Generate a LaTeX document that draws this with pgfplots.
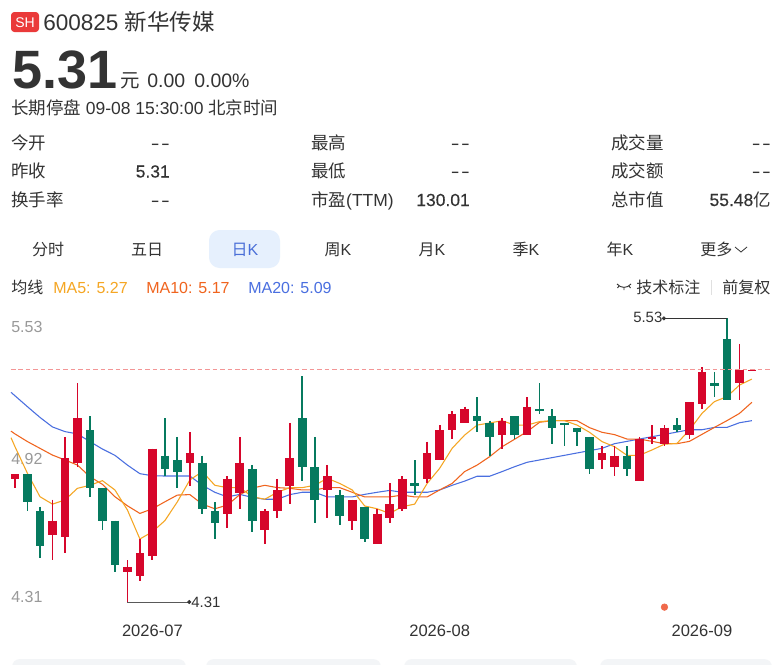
\documentclass[border=0pt]{standalone}
\usepackage{pgfplots}
\usepackage{pgfplotstable}
\usepackage{fontspec}
\pgfplotsset{compat=1.18}
\setmainfont{Liberation Sans}
\newfontfamily\cjk{Noto Sans CJK SC}
\newfontfamily\med[FakeBold=0.3]{Liberation Sans}
\definecolor{txt}{HTML}{333333}
\definecolor{tick}{HTML}{999999}
\definecolor{upc}{HTML}{D6062B}
\definecolor{dnc}{HTML}{067A5F}
\definecolor{ma5}{HTML}{F5A623}
\definecolor{ma10}{HTML}{F0641E}
\definecolor{ma20}{HTML}{4A6FE0}
\definecolor{tabbg}{HTML}{E6F0FD}
\definecolor{tabfg}{HTML}{4A6FD8}
\definecolor{badge}{HTML}{EA3A3A}
\definecolor{card}{HTML}{F3F5F7}
% x top bottom high low
\pgfplotstableread{
x top bot hi lo
0 4.86 4.84 4.86 4.80
3 4.66 4.60 4.75 4.49
4 4.93 4.59 5.02 4.52
5 5.10 4.91 5.25 4.89
9 4.46 4.44 4.49 4.31
10 4.52 4.42 4.58 4.40
11 4.97 4.51 4.97 4.49
14 4.95 4.91 5.04 4.81
17 4.84 4.69 4.85 4.63
18 4.91 4.78 5.02 4.71
20 4.70 4.62 4.71 4.56
21 4.79 4.70 4.84 4.67
22 4.93 4.81 5.08 4.73
25 4.85 4.79 4.90 4.67
27 4.75 4.66 4.75 4.62
29 4.69 4.56 4.71 4.56
30 4.73 4.67 4.82 4.65
31 4.84 4.71 4.85 4.70
33 4.95 4.84 5.00 4.82
34 5.05 4.92 5.07 4.92
35 5.12 5.05 5.13 5.01
36 5.14 5.08 5.15 5.08
39 5.09 5.03 5.10 4.97
41 5.15 5.03 5.19 5.03
47 4.95 4.92 4.98 4.88
48 4.94 4.89 4.98 4.85
50 5.01 4.83 5.02 4.83
51 5.02 5.01 5.07 4.99
52 5.06 4.99 5.07 4.98
54 5.17 5.03 5.17 5.01
55 5.30 5.16 5.32 5.14
58 5.31 5.25 5.42 5.18
59 5.31 5.305 5.31 5.305
}\uptab
\pgfplotstableread{
x top bot hi lo
1 4.86 4.74 4.86 4.70
2 4.70 4.55 4.72 4.50
6 5.05 4.80 5.11 4.76
7 4.80 4.66 4.80 4.62
8 4.66 4.47 4.66 4.44
12 4.94 4.88 5.10 4.85
13 4.92 4.87 5.02 4.80
15 4.91 4.71 4.94 4.69
16 4.70 4.65 4.74 4.58
19 4.88 4.66 4.90 4.61
23 5.10 4.89 5.28 4.83
24 4.89 4.75 5.02 4.65
26 4.77 4.68 4.79 4.64
28 4.72 4.58 4.72 4.57
32 4.82 4.81 4.92 4.77
37 5.11 5.09 5.19 5.04
38 5.08 5.02 5.09 4.94
40 5.11 5.03 5.11 5.01
42 5.14 5.13 5.25 5.12
43 5.11 5.06 5.14 4.99
44 5.08 5.07 5.08 4.98
45 5.06 5.04 5.06 4.98
46 5.02 4.88 5.02 4.86
49 4.94 4.88 4.98 4.85
53 5.07 5.05 5.10 5.04
56 5.25 5.24 5.30 5.19
57 5.44 5.18 5.53 5.18
}\dntab
% x ma5 ma10 ma20
\pgfplotstableread{
x a b c
-0.32 5.017 5.045 5.212
0 4.978 5.033 5.197
1 4.863 5.000 5.150
2 4.763 4.971 5.104
3 4.731 4.942 5.063
4 4.749 4.921 5.043
5 4.799 4.899 5.033
6 4.812 4.849 5.000
7 4.832 4.816 4.968
8 4.792 4.763 4.941
9 4.706 4.724 4.899
10 4.581 4.691 4.862
11 4.612 4.711 4.853
12 4.660 4.741 4.852
13 4.741 4.770 4.852
14 4.835 4.772 4.852
15 4.871 4.731 4.812
16 4.812 4.711 4.782
17 4.802 4.727 4.762
18 4.802 4.772 4.773
19 4.763 4.800 4.760
20 4.752 4.812 4.752
21 4.782 4.802 4.752
22 4.802 4.799 4.772
23 4.802 4.792 4.782
24 4.812 4.792 4.782
25 4.842 4.802 4.762
26 4.820 4.802 4.762
27 4.792 4.782 4.762
28 4.723 4.762 4.773
29 4.711 4.762 4.782
30 4.691 4.762 4.790
31 4.720 4.770 4.782
32 4.731 4.762 4.782
33 4.820 4.762 4.782
34 4.885 4.792 4.792
35 4.971 4.820 4.812
36 5.028 4.871 4.830
37 5.071 4.899 4.851
38 5.080 4.935 4.851
39 5.090 4.978 4.871
40 5.071 5.010 4.892
41 5.071 5.043 4.911
42 5.086 5.083 4.921
43 5.090 5.090 4.931
44 5.090 5.090 4.941
45 5.071 5.090 4.951
46 5.040 5.060 4.961
47 5.000 5.040 4.971
48 4.978 5.030 4.991
49 4.941 5.011 5.001
50 4.941 5.011 5.011
51 4.964 5.001 5.021
52 4.989 4.991 5.031
53 4.992 4.991 5.041
54 5.050 5.001 5.051
55 5.121 5.031 5.051
56 5.172 5.061 5.061
57 5.193 5.090 5.061
58 5.243 5.121 5.081
59 5.269 5.169 5.090
}\matab
\newcommand\fa{\fontsize{16.9}{18}\selectfont}
\newcommand\fb{\fontsize{14.6}{16}\selectfont}
\newcommand\fc{\fontsize{13.1}{15}\selectfont}
\newcommand\fd{\fontsize{12}{14}\selectfont}
\newcommand\nil{\scalebox{1.5}[1]{-}\kern1pt\scalebox{1.5}[1]{-}}
\begin{document}
\begin{tikzpicture}[x=0.75pt,y=-0.75pt,
  l/.style={inner sep=0pt,anchor=base west,text=txt,font=\fc},
  r/.style={inner sep=0pt,anchor=base east,text=txt,font=\fc},
  c/.style={inner sep=0pt,anchor=base,text=txt,font=\fd}]
\path[fill=white,use as bounding box] (0,0) rectangle (774,664);
\begin{axis}[at={(8.25pt,-459pt)},anchor=south west,scale only axis,
  width=570pt,height=226.5pt,
  xmin=-0.32,xmax=60.53,ymin=4.267,ymax=5.566,
  axis line style={draw=none},major tick length=0pt,tick style={draw=none},
  clip=false,
  xtick={11,34,55},xticklabels={2026-07,2026-08,2026-09},
  xticklabel style={font=\fontsize{12.4}{14}\selectfont,text=txt,yshift=-6pt},
  ytick={4.31,4.92,5.53},
  yticklabels={\raisebox{-0.7pt}{4.31},\raisebox{-3pt}{4.92},\raisebox{-10.5pt}{5.53}},
  yticklabel style={font=\fd,text=tick,anchor=base west,inner sep=0pt,xshift=0pt},
  error bars/error mark=none]
% moving averages, under the candles
\addplot[ma20,line width=0.8pt,no marks] table[x=x,y=c]{\matab};
\addplot[ma10,line width=0.8pt,no marks] table[x=x,y=b]{\matab};
\addplot[ma5,line width=0.8pt,no marks] table[x=x,y=a]{\matab};
% wicks
\addplot[draw=none,no marks,error bars/.cd,y dir=minus,y explicit,error mark=none,error bar style={draw=upc,line width=1.35pt,solid}]
  table[x=x,y=hi,y error minus expr=\thisrow{hi}-\thisrow{lo}]{\uptab};
\addplot[draw=none,no marks,error bars/.cd,y dir=minus,y explicit,error mark=none,error bar style={draw=dnc,line width=1.35pt,solid}]
  table[x=x,y=hi,y error minus expr=\thisrow{hi}-\thisrow{lo}]{\dntab};
% bodies
\addplot[draw=none,no marks,error bars/.cd,y dir=minus,y explicit,error mark=none,error bar style={draw=upc,line width=6.5pt,solid}]
  table[x=x,y=top,y error minus expr=\thisrow{top}-\thisrow{bot}]{\uptab};
\addplot[draw=none,no marks,error bars/.cd,y dir=minus,y explicit,error mark=none,error bar style={draw=dnc,line width=6.5pt,solid}]
  table[x=x,y=top,y error minus expr=\thisrow{top}-\thisrow{bot}]{\dntab};
% last close
\addplot[color={rgb,255:red,243;green,150;blue,150},line width=0.75pt,dash pattern=on 3.4pt off 2.2pt,no marks] coordinates {(-0.32,5.31)(60.53,5.31)};
% high and low callouts
\addplot[color=txt,line width=0.75pt,no marks] coordinates {(57,5.53)(51.96,5.53)};
\addplot[color=txt,only marks,mark=*,mark size=1.3pt] coordinates {(51.96,5.53)};
\addplot[color=black!65,line width=0.75pt,no marks] coordinates {(9,4.31)(13.95,4.31)};
\addplot[color=txt,only marks,mark=*,mark size=1.3pt] coordinates {(13.95,4.31)};
\addplot[color={rgb,255:red,240;green,105;blue,75},only marks,mark=*,mark size=2.5pt] coordinates {(52,4.288)};
\node[anchor=west,inner sep=0pt,font=\fontsize{11.2}{13}\selectfont,text=txt] at (axis cs:14.1,4.31) {4.31};
\node[anchor=east,inner sep=0pt,font=\fontsize{11.2}{13}\selectfont,text=txt] at (axis cs:51.85,5.535) {5.53};
\end{axis}
% header
\fill[badge,rounded corners=2.5pt] (11,12) rectangle (39,32);
\node[inner sep=0pt,anchor=base,text=white,font=\fontsize{10.5}{12}\selectfont] at (25,27) {SH};
\node[l,font=\fa] at (43,30) {600825 {\cjk 新华传媒}};
\node[l,font=\fontsize{40.5}{42}\selectfont\bfseries] at (12,88) {5.31};
\node[l,font=\fb] at (120,87) {{\cjk 元}};
\node[l,font=\fb] at (147,87) {0.00};
\node[l,font=\fb] at (194,87) {0.00\%};
\node[l] at (11,114) {{\cjk 长期停盘} 09-08 15:30:00 {\cjk 北京时间}};
% quote table
\node[l] at (11,149) {\cjk 今开};
\node[l] at (11,177.5) {\cjk 昨收};
\node[l] at (11,206) {\cjk 换手率};
\node[r] at (170,149) {\nil};
\node[r] at (170,177.5) {\med 5.31};
\node[r] at (170,206) {\nil};
\node[l] at (311,149) {\cjk 最高};
\node[l] at (311,177.5) {\cjk 最低};
\node[l] at (311,206) {{\cjk 市盈}(TTM)};
\node[r] at (470,149) {\nil};
\node[r] at (470,177.5) {\nil};
\node[r] at (470,206) {\med 130.01};
\node[l] at (611,149) {\cjk 成交量};
\node[l] at (611,177.5) {\cjk 成交额};
\node[l] at (611,206) {\cjk 总市值};
\node[r] at (771,149) {\nil};
\node[r] at (771,177.5) {\nil};
\node[r] at (771,206) {{\med 55.48}{\cjk 亿}};
% tabs
\fill[tabbg,rounded corners=8pt] (209,230) rectangle (280,268);
\node[c] at (48,255) {\cjk 分时};
\node[c] at (147,255) {\cjk 五日};
\node[c,text=tabfg] at (245,255) {{\cjk 日}K};
\node[c] at (338,255) {{\cjk 周}K};
\node[c] at (432,255) {{\cjk 月}K};
\node[c] at (526,255) {{\cjk 季}K};
\node[c] at (620,255) {{\cjk 年}K};
\node[inner sep=0pt,anchor=base west,text=txt,font=\fd] at (700,255) {\cjk 更多};
\draw[txt,line width=0.6pt] (735,247) -- (741,252) -- (747,247);
% legend row
\node[l,font=\fd] at (11,293) {\cjk 均线};
\node[l,font=\fd,text=ma5] at (53,293) {MA5: 5.27};
\node[l,font=\fd,text=ma10] at (146,293) {MA10: 5.17};
\node[l,font=\fd,text=ma20] at (248,293) {MA20: 5.09};
\draw[txt,line width=0.7pt] (617,284) .. controls (621,288.5) and (627,288.5) .. (631,284);
\draw[txt,line width=0.7pt] (619,286) -- (617.5,288) (624,287.5) -- (624,290) (629,286) -- (630.5,288);
\node[l,font=\fd] at (636,293) {\cjk 技术标注};
\draw[black!12,line width=0.7pt] (711.5,280) -- (711.5,295);
\node[l,font=\fd] at (722,293) {\cjk 前复权};
% cards cut by the lower edge
\fill[card,rounded corners=6pt] (12,659) rectangle (186,680);
\fill[card,rounded corners=6pt] (206,659) rectangle (381,680);
\fill[card,rounded corners=6pt] (404,659) rectangle (577,680);
\fill[card,rounded corners=6pt] (600,659) rectangle (772,680);
\end{tikzpicture}
\end{document}
